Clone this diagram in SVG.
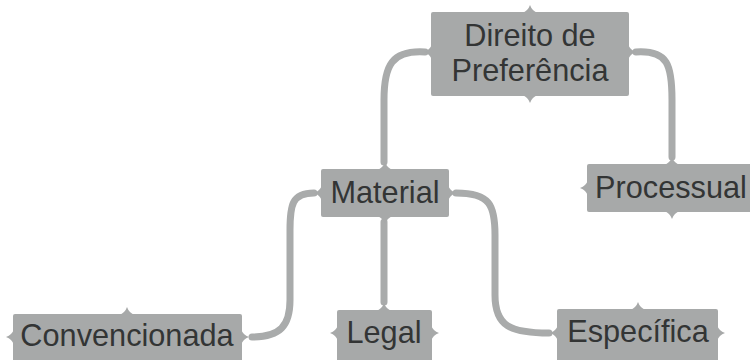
<svg xmlns="http://www.w3.org/2000/svg" xmlns:xlink="http://www.w3.org/1999/xlink" width="750" height="360" viewBox="0 0 750 360">
  <style>
    .box { fill: #a7a9a9; }
    .notch { fill: #a7a9a9; }
    .lbl { font-family: "Liberation Sans", Arial, sans-serif; font-size: 30.7px; fill: #333535; text-anchor: middle; }
    .conn { fill: none; stroke: #a9abab; stroke-width: 7; stroke-linecap: round; stroke-linejoin: round; }
  </style>
  <defs>
    <path id="n" class="notch" d="M-8,1 Q-2,-1 0,-7 Q2,-1 8,1 Z"/>
  </defs>
  <rect width="750" height="360" fill="#ffffff"/>

  <g id="connectors">
    <path class="conn" d="M 425 52 C 392 50, 384 65, 384 100 L 384 162"/>
    <path class="conn" d="M 636 52 C 668 50, 672 65, 672 100 L 672 157"/>
    <path class="conn" d="M 314 193 C 292 193, 290 205, 290 230 L 290 300 C 290 326, 280 337, 252 337"/>
    <path class="conn" d="M 384 222 L 384 302"/>
    <path class="conn" d="M 456 193 C 490 193, 495 205, 495 235 L 495 295 C 495 326, 510 333, 549 333"/>
  </g>

  <g id="node-direito">
    <rect class="box" x="431" y="12" width="198" height="84" rx="2"/>
    <use xlink:href="#n" transform="translate(530,12)"/>
    <use xlink:href="#n" transform="translate(530,96) rotate(180)"/>
    <use xlink:href="#n" transform="translate(431,52) rotate(-90)"/>
    <use xlink:href="#n" transform="translate(629,52) rotate(90)"/>
    <text class="lbl" x="530" y="46">Direito de</text>
    <text class="lbl" x="530" y="81">Preferência</text>
  </g>

  <g id="node-material">
    <rect class="box" x="321" y="169" width="128" height="48" rx="2"/>
    <use xlink:href="#n" transform="translate(385,169)"/>
    <use xlink:href="#n" transform="translate(385,217) rotate(180)"/>
    <use xlink:href="#n" transform="translate(321,193) rotate(-90)"/>
    <use xlink:href="#n" transform="translate(449,193) rotate(90)"/>
    <text class="lbl" x="385" y="203">Material</text>
  </g>

  <g id="node-processual">
    <rect class="box" x="587" y="164" width="165" height="48" rx="2"/>
    <use xlink:href="#n" transform="translate(672,164)"/>
    <use xlink:href="#n" transform="translate(672,212) rotate(180)"/>
    <use xlink:href="#n" transform="translate(587,188) rotate(-90)"/>
    <text class="lbl" x="671" y="198">Processual</text>
  </g>

  <g id="node-convencionada">
    <rect class="box" x="13" y="314" width="229" height="50" rx="2"/>
    <use xlink:href="#n" transform="translate(127,314)"/>
    <use xlink:href="#n" transform="translate(13,337) rotate(-90)"/>
    <use xlink:href="#n" transform="translate(242,337) rotate(90)"/>
    <text class="lbl" x="127" y="346">Convencionada</text>
  </g>

  <g id="node-legal">
    <rect class="box" x="337" y="310" width="95" height="54" rx="2"/>
    <use xlink:href="#n" transform="translate(384,310)"/>
    <use xlink:href="#n" transform="translate(337,333) rotate(-90)"/>
    <use xlink:href="#n" transform="translate(432,333) rotate(90)"/>
    <text class="lbl" x="384" y="343">Legal</text>
  </g>

  <g id="node-especifica">
    <rect class="box" x="557" y="309" width="161" height="55" rx="2"/>
    <use xlink:href="#n" transform="translate(638,309)"/>
    <use xlink:href="#n" transform="translate(557,333) rotate(-90)"/>
    <use xlink:href="#n" transform="translate(718,333) rotate(90)"/>
    <text class="lbl" x="638" y="342">Específica</text>
  </g>
</svg>
